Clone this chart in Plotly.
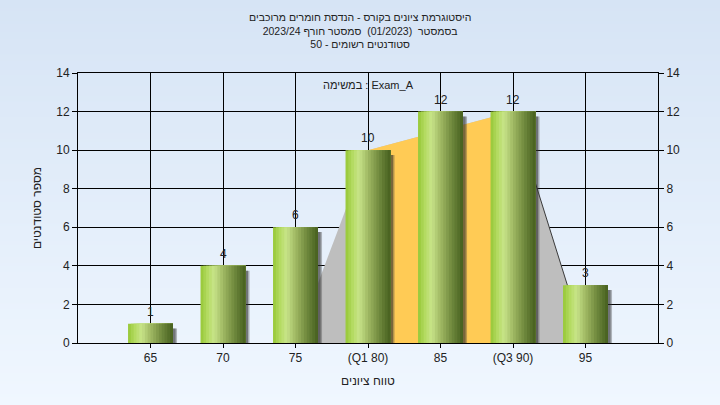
import base64, struct, zlib
import plotly.graph_objects as go

# ---- data ----
grades = [65, 70, 75, 80, 85, 90, 95]
tick_labels = ["65", "70", "75", "(Q1 80)", "85", "(Q3 90)", "95"]
counts = [1, 4, 6, 10, 12, 12, 3]
# quartile band (light gray trapezoid + highlighted Q1..Q3 band)
band_x = [75, 80, 90, 95]
band_y = [0, 10, 12, 0]
q_x = [80, 90]
q_y = [10, 12]

title_lines = [
    "היסטוגרמת ציונים בקורס - הנדסת חומרים מרוכבים",
    "בסמסטר  (01/2023)  סמסטר חורף 2023/24",
    "סטודנטים רשומים - 50",
]
exam_label = "במשימה : Exam_A"
y_title = "מספר סטודנטים"
x_title = "טווח ציונים"

FONT = "Liberation Sans, Arial, DejaVu Sans, sans-serif"

# ---- page gradient as png ----
def gradient_png(h, top, bottom):
    raw = b""
    for i in range(h):
        t = i / (h - 1)
        c = bytes(int(round(top[k] + (bottom[k] - top[k]) * t)) for k in range(3))
        raw += b"\x00" + c
    def chunk(tag, data):
        return struct.pack(">I", len(data)) + tag + data + struct.pack(">I", zlib.crc32(tag + data) & 0xffffffff)
    png = b"\x89PNG\r\n\x1a\n"
    png += chunk(b"IHDR", struct.pack(">IIBBBBB", 1, h, 8, 2, 0, 0, 0))
    png += chunk(b"IDAT", zlib.compress(raw))
    png += chunk(b"IEND", b"")
    return "data:image/png;base64," + base64.b64encode(png).decode()

W, H = 720, 405
ML, MR, MT, MB = 78, 62, 73, 62
PW, PH = W - ML - MR, H - MT - MB

fig = go.Figure()

# band traces on main axes (above grid, below bars)
fig.add_trace(go.Scatter(x=band_x + [band_x[0]], y=band_y + [band_y[0]], fill="toself",
                         fillcolor="#bebebe", mode="none", hoverinfo="skip", showlegend=False))
fig.add_trace(go.Scatter(x=[q_x[0], q_x[0], q_x[1], q_x[1], q_x[0]],
                         y=[0, q_y[0], q_y[1], 0, 0], fill="toself",
                         fillcolor="#ffcb55", mode="none", hoverinfo="skip", showlegend=False))
fig.add_trace(go.Scatter(x=band_x[2:], y=band_y[2:], mode="lines",
                         line=dict(color="#3a3a3a", width=1), hoverinfo="skip", showlegend=False))

# bars on overlaying axes
bw = 3.1
shadow = [max(c - 0.25, 0) for c in counts]
fig.add_trace(go.Bar(x=grades, y=shadow, width=bw, offset=-bw / 2 + 0.28,
                     marker=dict(color="rgba(60,60,60,0.35)", line=dict(width=0)),
                     xaxis="x2", yaxis="y2", hoverinfo="skip", showlegend=False))
fig.add_trace(go.Bar(x=grades, y=shadow, width=bw, offset=-bw / 2 + 0.18,
                     marker=dict(color="rgba(40,40,40,0.45)", line=dict(width=0)),
                     xaxis="x2", yaxis="y2", hoverinfo="skip", showlegend=False))

stops = [(0.0, (150, 200, 55)), (0.18, (185, 222, 105)), (0.3, (200, 228, 138)),
         (0.5, (160, 185, 100)), (0.75, (112, 138, 62)), (1.0, (70, 95, 30))]
def col(t):
    for (t0, c0), (t1, c1) in zip(stops[:-1], stops[1:]):
        if t0 <= t <= t1:
            f = (t - t0) / (t1 - t0)
            return "rgb(%d,%d,%d)" % tuple(int(c0[k] + (c1[k] - c0[k]) * f) for k in range(3))
    return "rgb(70,95,30)"

N = 16
sw = bw / N
for i in range(N):
    fig.add_trace(go.Bar(x=grades, y=counts, width=bw - i * sw, offset=-bw / 2 + i * sw,
                         marker=dict(color=col((i + 0.5) / N), line=dict(width=0)),
                         xaxis="x2", yaxis="y2", hoverinfo="skip", showlegend=False))

# value labels above bars
for g, c in zip(grades, counts):
    fig.add_annotation(x=g, y=c, xref="x2", yref="y2", text=str(c), showarrow=False,
                       xanchor="center", yanchor="bottom", yshift=3,
                       font=dict(family=FONT, size=12, color="#222"))

tfont = dict(family=FONT, size=12, color="#222")
fig.update_layout(
    width=W, height=H, autosize=False,
    margin=dict(l=ML, r=MR, t=MT, b=MB),
    paper_bgcolor="#e4eefa",
    plot_bgcolor="#b4b4b4",
    barmode="overlay",
    font=tfont,
    xaxis=dict(range=[60, 100], tickmode="array", tickvals=grades, ticktext=tick_labels,
               automargin=False,
               showgrid=True, gridcolor="#000", gridwidth=1, zeroline=False,
               showline=True, linecolor="#000", linewidth=1, mirror=True,
               ticks="outside", ticklen=4, tickcolor="#000",
               tickfont=tfont,
               title=dict(text=x_title, font=tfont, standoff=12)),
    yaxis=dict(range=[0, 14], tickmode="linear", dtick=2, tick0=0, automargin=False,
               showgrid=True, gridcolor="#000", gridwidth=1, zeroline=False,
               showline=True, linecolor="#000", linewidth=1, mirror=True,
               ticks="outside", ticklen=5, tickcolor="#000",
               tickfont=tfont,
               title=dict(text=y_title, font=tfont, standoff=12)),
    xaxis2=dict(range=[60, 100], overlaying="x", side="top", showgrid=False, zeroline=False,
                showticklabels=False, ticks="", showline=False, automargin=False),
    yaxis2=dict(range=[0, 14], overlaying="y", side="right", tickmode="linear", dtick=2, tick0=0,
                showgrid=False, zeroline=False, showline=True, linecolor="#000", automargin=False,
                ticks="outside", ticklen=5, tickcolor="#000", tickfont=tfont),
    images=[dict(source=gradient_png(H, (214, 228, 245), (240, 247, 255)),
                 xref="paper", yref="paper", x=-ML / PW, y=1 + MT / PH,
                 sizex=W / PW, sizey=H / PH, sizing="stretch", layer="below",
                 xanchor="left", yanchor="top")],
)

fig.add_annotation(text="<br>".join(title_lines), xref="paper", yref="paper",
                   x=(360 - ML) / PW, y=1 + (MT - 30) / PH, showarrow=False,
                   xanchor="center", yanchor="middle", align="center",
                   font=dict(family=FONT, size=10.5, color="#222"))

fig.add_annotation(text=exam_label, xref="paper", yref="paper", x=(368 - ML) / PW,
                   y=1 - (85 - MT) / PH, showarrow=False, xanchor="center", yanchor="middle",
                   font=dict(family=FONT, size=11, color="#222"))

fig.write_html("out.html", config={"displayModeBar": False},
               post_script="document.body.style.margin='0px';")
